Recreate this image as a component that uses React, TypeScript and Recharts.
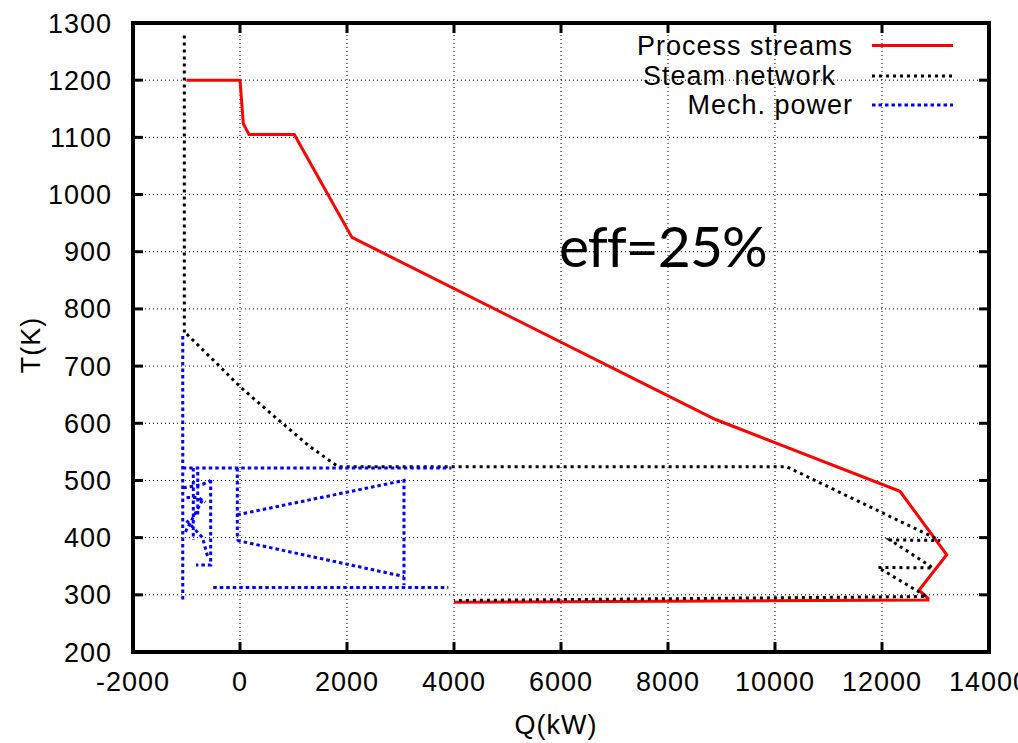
import { LineChart, Line, XAxis, YAxis, CartesianGrid } from "recharts";

const W = 1018;
const H = 743;
// plot frame in page pixels
const LEFT = 133;
const RIGHT = 989;
const TOP = 23;
const BOTTOM = 652;

const qTicks = [-2000, 0, 2000, 4000, 6000, 8000, 10000, 12000, 14000];
const tTicks = [200, 300, 400, 500, 600, 700, 800, 900, 1000, 1100, 1200, 1300];

// process streams (red)
const processQ = [-1000, 0, 62, 168, 1015, 2093, 8879, 12336, 13210, 12690, 12860, 12860, 4000];
const processT = [1200, 1200, 1124, 1105, 1105, 925, 607, 481, 370, 308, 294, 291, 287];

// steam network (black dotted)
const steamQ = [-1041, -1041, -996, -406, 0, 716, 1308, 1837, 10219, 11370, 13084, 12150, 12953, 11925, 12835, 4000];
const steamT = [1278, 756, 756, 702, 664, 606, 559, 524, 524, 472, 395, 396, 347, 348, 297, 290];

// mechanical power (blue dotted), null = pen up
const mechQ = [
  -1070, -1070, -1070,
  -1070, 3950, -1070,
  -50, -50, -50,
  -50, 3065, 3065, -50,
  -50, 3065, -50,
  -500, 3893, -500,
  -873, -873, -873,
  -548, -548, -822, -822,
  -1060, -700, -548, -548,
  -1000, -780, -650, -650,
  -1020, -680, -680,
  -1000, -700, -600, -600,
  -790, -790,
];
const mechT = [
  292, 755, null,
  522, 522, null,
  522, 395, null,
  440, 500, 317, null,
  395, 332, null,
  313, 313, null,
  522, 396, null,
  501, 352, 352, null,
  487, 493, 500, null,
  470, 470, 462, null,
  410, 470, null,
  430, 400, 365, null,
  515, 440,
];

const legendNames = ["Process streams", "Steam network", "Mech. power"];

const toPoints = (qs: number[], ts: (number | null)[]) => qs.map((q, i) => ({ q, t: ts[i] }));

const processData = toPoints(processQ, processT);
const steamData = toPoints(steamQ, steamT);
const mechData = toPoints(mechQ, mechT);

const FONT = "'Liberation Sans', Arial, Helvetica, sans-serif";
const tickStyle = { fill: "#000", fontSize: 27, fontFamily: FONT, letterSpacing: 1 };

// tick positions for the gnuplot-like inward tick marks on the frame
const qx = (q: number) => LEFT + ((q - qTicks[0]) / (qTicks[qTicks.length - 1] - qTicks[0])) * (RIGHT - LEFT);
const ty = (t: number) => BOTTOM - ((t - tTicks[0]) / (tTicks[tTicks.length - 1] - tTicks[0])) * (BOTTOM - TOP);

export default function App() {
  return (
    <div style={{ position: "absolute", left: 0, top: 0, width: W, height: H, background: "#fff" }}>
      <LineChart width={W} height={H} margin={{ top: TOP, right: W - RIGHT, bottom: H - BOTTOM - 30, left: LEFT - 60 }}>
        <CartesianGrid stroke="#000" strokeDasharray="1 3" strokeWidth={1} />
        <XAxis
          dataKey="q"
          type="number"
          domain={[-2000, 14000]}
          ticks={qTicks}
          allowDataOverflow
          height={30}
          axisLine={false}
          tickLine={false}
          tickSize={-10}
          tickMargin={30}
          tick={tickStyle}
          interval={0}
        />
        <YAxis
          dataKey="t"
          type="number"
          domain={[200, 1300]}
          ticks={tTicks}
          allowDataOverflow
          width={60}
          axisLine={false}
          tickLine={false}
          tickSize={-10}
          tickMargin={31}
          tick={tickStyle}
          interval={0}
        />
        <Line
          data={processData}
          dataKey="t"
          name={legendNames[0]}
          type="linear"
          stroke="#ff0000"
          strokeWidth={3}
          dot={false}
          isAnimationActive={false}
        />
        <Line
          data={steamData}
          dataKey="t"
          name={legendNames[1]}
          type="linear"
          stroke="#000"
          strokeWidth={3}
          strokeDasharray="3 4"
          dot={false}
          isAnimationActive={false}
        />
        <Line
          data={mechData}
          dataKey="t"
          name={legendNames[2]}
          type="linear"
          stroke="#0000ff"
          strokeWidth={3}
          strokeDasharray="3.5 3"
          dot={false}
          connectNulls={false}
          isAnimationActive={false}
        />
      </LineChart>

      {/* gnuplot-style frame, key, labels and annotation */}
      <svg
        width={W}
        height={H}
        style={{ position: "absolute", left: 0, top: 0, pointerEvents: "none" }}
      >
        <rect x={LEFT} y={TOP} width={RIGHT - LEFT} height={BOTTOM - TOP} fill="none" stroke="#000" strokeWidth={4} />
        {qTicks.map((q) => (
          <g key={`q${q}`} stroke="#000" strokeWidth={3}>
            <line x1={qx(q)} x2={qx(q)} y1={BOTTOM} y2={BOTTOM - 10} />
            <line x1={qx(q)} x2={qx(q)} y1={TOP} y2={TOP + 10} />
          </g>
        ))}
        {tTicks.map((t) => (
          <g key={`t${t}`} stroke="#000" strokeWidth={3}>
            <line x1={LEFT} x2={LEFT + 10} y1={ty(t)} y2={ty(t)} />
            <line x1={RIGHT} x2={RIGHT - 10} y1={ty(t)} y2={ty(t)} />
          </g>
        ))}
        <g fontFamily={FONT} fontSize={27} fill="#000" letterSpacing={1}>
          <text x={853} y={55} textAnchor="end">{legendNames[0]}</text>
          <text x={836} y={85} textAnchor="end">{legendNames[1]}</text>
          <text x={853} y={114} textAnchor="end">{legendNames[2]}</text>
          <text x={556} y={734} textAnchor="middle">Q(kW)</text>
          <text x={40} y={345} textAnchor="middle" transform="rotate(-90 40 345)">T(K)</text>
        </g>
        <line x1={872} x2={953} y1={45.5} y2={45.5} stroke="#ff0000" strokeWidth={3} />
        <line x1={872} x2={953} y1={76} y2={76} stroke="#000" strokeWidth={3} strokeDasharray="3 4" />
        <line x1={872} x2={953} y1={105} y2={105} stroke="#0000ff" strokeWidth={3} strokeDasharray="3.5 3" />
        <text x={559} y={267} fontFamily="Lato, 'Open Sans', sans-serif" fontSize={57} fill="#000" letterSpacing={-1}>
          eff=25%
        </text>
      </svg>
    </div>
  );
}
